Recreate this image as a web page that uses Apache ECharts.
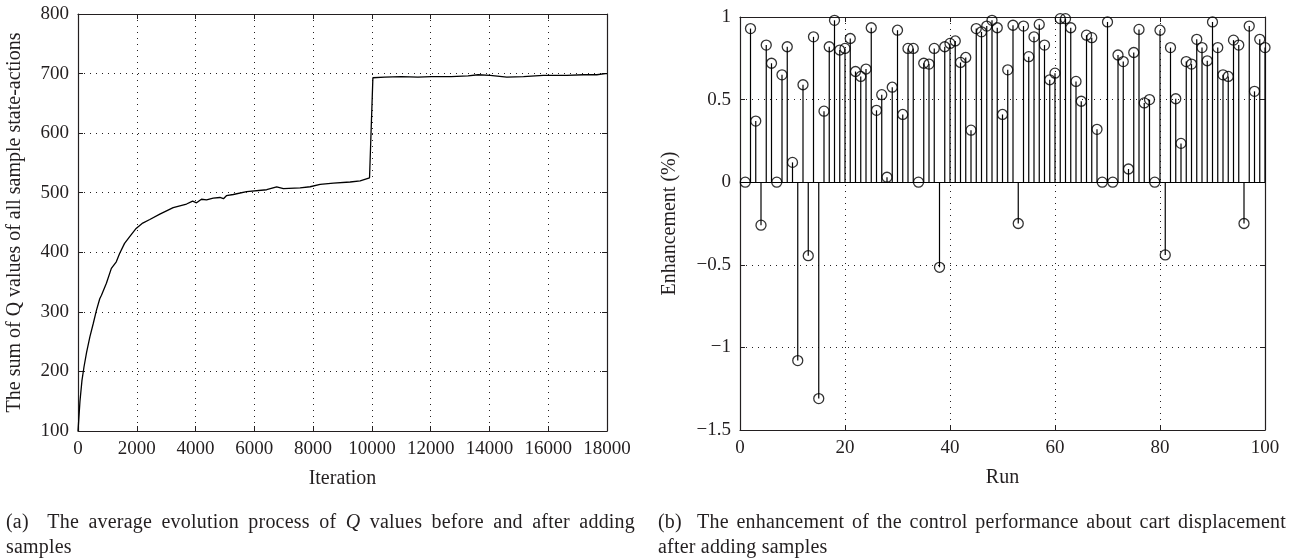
<!DOCTYPE html>
<html>
<head>
<meta charset="utf-8">
<script src="https://cdn.jsdelivr.net/npm/echarts@6/dist/echarts.min.js"></script>
<style>
body { margin: 0; background: #fff; }
#main { position: absolute; left: 0; top: 0; width: 1295px; height: 559px; }
.cap {
    position: absolute;
    font-family: 'Liberation Serif', serif;
    font-size: 20px;
    letter-spacing: 0.2px;
    line-height: 25px;
    color: #231f20;
    white-space: nowrap;
}
.cap .l1 { text-align: justify; text-align-last: justify; white-space: normal; }
</style>
</head>
<body>
<div id="main"></div>
<div class="cap" style="left:6px;top:509px;width:629px">
    <div class="l1">(a)&nbsp; The average evolution process of <i>Q</i> values before and after adding</div>
    <div>samples</div>
</div>
<div class="cap" style="left:658px;top:509px;width:628px">
    <div class="l1">(b)&nbsp; The enhancement of the control performance about cart displacement</div>
    <div>after adding samples</div>
</div>
<script>
// (a) average Q sum
var iterations = [0, 67, 135, 202, 292, 404, 517, 629, 740, 798, 966, 1135, 1303, 1416, 1584, 1753, 1978,
    2202, 2443, 2784, 3239, 3693, 3900, 4034, 4200, 4375, 4600, 4830, 4950, 5050, 5284, 5739, 6420, 6761,
    6989, 7557, 7898, 8239, 8693, 9261, 9602, 9920, 10034, 10432, 11000, 11568, 12023, 12700, 13270,
    13614, 14023, 14591, 15160, 15830, 16630, 17200, 17650, 17943, 18000]
var qSum = [100, 150, 185, 207, 232, 258, 280, 303, 322, 328, 348, 373, 384, 398, 415, 426, 440,
    449, 455, 464, 475, 481, 486, 483, 489, 488, 491, 492, 490, 495, 497, 502, 505, 510,
    507, 508, 510, 514, 516, 518, 520, 525, 693, 694, 695, 694, 695, 695, 696,
    698, 697, 694, 695, 697, 697, 698, 698, 700, 700]

// (b) enhancement per run
var runs = []
for (var r = 1; r <= 100; r++) runs.push(r)
var enhancement = [
    0, 0.93, 0.37, -0.26, 0.83, 0.72, 0, 0.65, 0.82, 0.12,
    -1.08, 0.59, -0.445, 0.88, -1.31, 0.43, 0.82, 0.98, 0.80, 0.81,
    0.87, 0.67, 0.64, 0.685, 0.935, 0.435, 0.53, 0.03, 0.575, 0.92,
    0.41, 0.81, 0.81, 0, 0.72, 0.715, 0.81, -0.515, 0.82, 0.84,
    0.855, 0.725, 0.755, 0.315, 0.93, 0.91, 0.945, 0.98, 0.935, 0.41,
    0.68, 0.95, -0.25, 0.945, 0.76, 0.88, 0.955, 0.83, 0.62, 0.66,
    0.99, 0.99, 0.935, 0.61, 0.49, 0.89, 0.875, 0.32, 0, 0.97,
    0, 0.77, 0.73, 0.08, 0.785, 0.925, 0.48, 0.5, 0, 0.92,
    -0.44, 0.815, 0.505, 0.235, 0.73, 0.715, 0.865, 0.815, 0.735, 0.97,
    0.815, 0.65, 0.64, 0.86, 0.83, -0.25, 0.945, 0.55, 0.865, 0.815
]

var ink = '#231f20'
var font = 'Liberation Serif'

// labelled bottom/left axis, plus a mirrored top/right axis that closes the box
function mainAxis(opt) {
    return Object.assign({
        type: 'value',
        axisLine: { show: true, onZero: false, lineStyle: { color: ink, width: 1.2 } },
        axisTick: { show: true, inside: true, length: 5, lineStyle: { color: ink } },
        axisLabel: { color: ink, fontFamily: font, fontSize: 19, margin: 9,
            formatter: function (v) { return String(v).replace('-', '\u2212') } },
        splitLine: { show: true, lineStyle: { color: ink, type: [1, 5], width: 1 } },
        nameLocation: 'middle',
        nameTextStyle: { color: ink, fontFamily: font, fontSize: 20 }
    }, opt)
}
function boxAxis(opt) {
    return Object.assign({
        type: 'value',
        axisLine: { show: true, onZero: false, lineStyle: { color: ink, width: 1.2 } },
        axisTick: { show: true, inside: true, length: 5, lineStyle: { color: ink } },
        axisLabel: { show: false },
        splitLine: { show: false }
    }, opt)
}

var myChart = echarts.init(document.getElementById('main'))
var options = {
    animation: false,
    grid: [
        { left: 78, top: 14, width: 529, height: 417 },
        { left: 740, top: 17, width: 525, height: 413 }
    ],
    xAxis: [
        mainAxis({ gridIndex: 0, min: 0, max: 18000, interval: 2000, name: 'Iteration', nameGap: 38 }),
        boxAxis({ gridIndex: 0, position: 'top', min: 0, max: 18000, interval: 2000 }),
        mainAxis({ gridIndex: 1, min: 0, max: 100, interval: 20, name: 'Run', nameGap: 38 }),
        boxAxis({ gridIndex: 1, position: 'top', min: 0, max: 100, interval: 20 })
    ],
    yAxis: [
        mainAxis({ gridIndex: 0, min: 100, max: 800, interval: 100,
            name: 'The sum of Q values of all sample state-actions', nameGap: 53 }),
        boxAxis({ gridIndex: 0, position: 'right', min: 100, max: 800, interval: 100 }),
        mainAxis({ gridIndex: 1, min: -1.5, max: 1, interval: 0.5, name: 'Enhancement (%)', nameGap: 60 }),
        boxAxis({ gridIndex: 1, position: 'right', min: -1.5, max: 1, interval: 0.5 })
    ],
    series: [
        {
            type: 'line',
            xAxisIndex: 0,
            yAxisIndex: 0,
            showSymbol: false,
            lineStyle: { color: '#000', width: 1.3 },
            data: iterations.map(function (x, i) { return [x, qSum[i]] })
        },
        {
            // stems
            type: 'custom',
            xAxisIndex: 2,
            yAxisIndex: 2,
            data: runs.map(function (x, i) { return [x, enhancement[i]] }),
            renderItem: function (params, api) {
                var p0 = api.coord([api.value(0), 0])
                var p1 = api.coord([api.value(0), api.value(1)])
                return {
                    type: 'line',
                    shape: { x1: p0[0], y1: p0[1], x2: p1[0], y2: p1[1] },
                    style: { stroke: '#000', lineWidth: 1.2 }
                }
            }
        },
        {
            type: 'scatter',
            xAxisIndex: 2,
            yAxisIndex: 2,
            symbol: 'circle',
            symbolSize: 10,
            itemStyle: { color: 'rgba(255,255,255,0)', borderColor: '#000', borderWidth: 1.3 },
            data: runs.map(function (x, i) { return [x, enhancement[i]] }),
            markLine: {
                silent: true,
                symbol: 'none',
                label: { show: false },
                lineStyle: { color: '#000', type: 'solid', width: 1.2 },
                data: [{ yAxis: 0 }]
            }
        }
    ]
}
myChart.setOption(options)
</script>
</body>
</html>
